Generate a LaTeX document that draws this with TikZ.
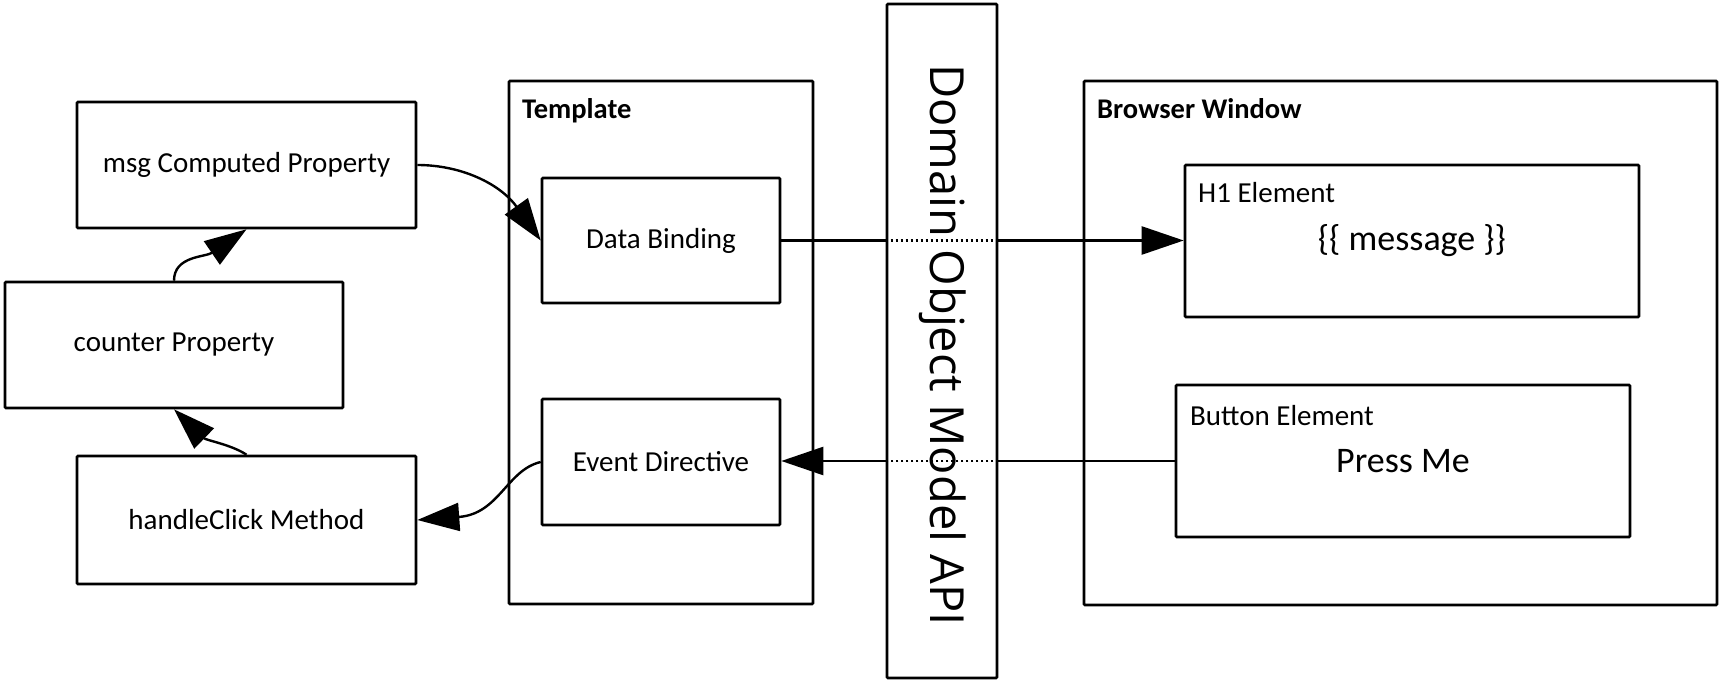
\documentclass[tikz,border=0pt]{standalone}
\usepackage{fontspec}
\setmainfont{Carlito}
\newfontfamily\domfont{Open Sans}
\usetikzlibrary{arrows.meta}
\begin{document}
\begin{tikzpicture}[x=1pt,y=-1pt,
  box/.style={draw, line width=2.6pt, rounded corners=1pt, inner sep=0pt, align=center, font=\fontsize{29}{33}\selectfont},
  bigtext/.style={inner sep=0pt, font=\fontsize{36}{40}\selectfont},
  conn/.style={line width=2.4pt},
  dotline/.style={line width=2.2pt, dash pattern=on 2.5pt off 2.5pt},
  arr/.style={conn, -{Triangle[length=42pt,width=28pt]}},
  ttl/.style={anchor=base west, inner sep=0pt, font=\bfseries\fontsize{28.5}{32}\selectfont},
  sub/.style={anchor=base west, inner sep=0pt, font=\fontsize{29}{33}\selectfont},
]
\useasboundingbox (0,0) rectangle (1725,687);

% left column
\node[box, minimum width=339pt, minimum height=126pt] (msg) at (246.5,165) {msg Computed Property};
\node[box, minimum width=338pt, minimum height=126pt] (counter) at (174,345) {counter Property};
\node[box, minimum width=339pt, minimum height=128pt] (handle) at (246.5,520) {handleClick Method};

% template
\node[box, minimum width=304pt, minimum height=523pt] (template) at (661,342.5) {};
\node[ttl] (templatettl) at (522,119) {Template};
\node[box, minimum width=238pt, minimum height=125pt] (db) at (661,240.5) {Data Binding};
\node[box, minimum width=238pt, minimum height=126pt] (ed) at (661,462) {Event Directive};

% DOM
\node[box, minimum width=110pt, minimum height=674pt] (dom) at (942,341) {};
\node[rotate=-90, inner sep=0pt, font=\domfont\fontsize{47}{50}\selectfont] (domlabel) at (943,345) {Domain Object Model API};

% browser window
\node[box, minimum width=633pt, minimum height=524pt] (browser) at (1400.5,343) {};
\node[ttl] (browserttl) at (1097,119) {Browser Window};
\node[box, minimum width=454pt, minimum height=152pt] (h1) at (1412,241) {};
\node[sub] (h1ttl) at (1198,203) {H1 Element};
\node[bigtext] (h1txt) at (h1.center) {\{\{ message \}\}};
\node[box, minimum width=454pt, minimum height=152pt] (btn) at (1403,461) {};
\node[sub] (btnttl) at (1190,425) {Button Element};
\node[bigtext] (btntxt) at (btn.center) {Press Me};

% connectors
\draw[conn] (db.east) -- (db.east -| dom.west);
\draw[dotline] (db.east -| dom.west) -- (db.east -| dom.east);
\draw[arr] (db.east -| dom.east) -- (db.east -| h1.west);

\draw[conn] (btn.west) -- (btn.west -| dom.east);
\draw[dotline] (btn.west -| dom.east) -- (btn.west -| dom.west);
\draw[arr] (btn.west -| dom.west) -- (btn.west -| ed.east);

\draw[arr] (counter.north) .. controls +(0,-25) and +(-41,28) .. (msg.south);
\draw[arr] (handle.north) .. controls +(-15,-10) and +(32,31) .. (counter.south);
\draw[arr] (msg.east) .. controls +(45,0) and +(-40,-56) .. (db.west);
\draw[arr] (ed.west) .. controls +(-34,8) and +(82,-6) .. (handle.east);
\end{tikzpicture}
\end{document}
